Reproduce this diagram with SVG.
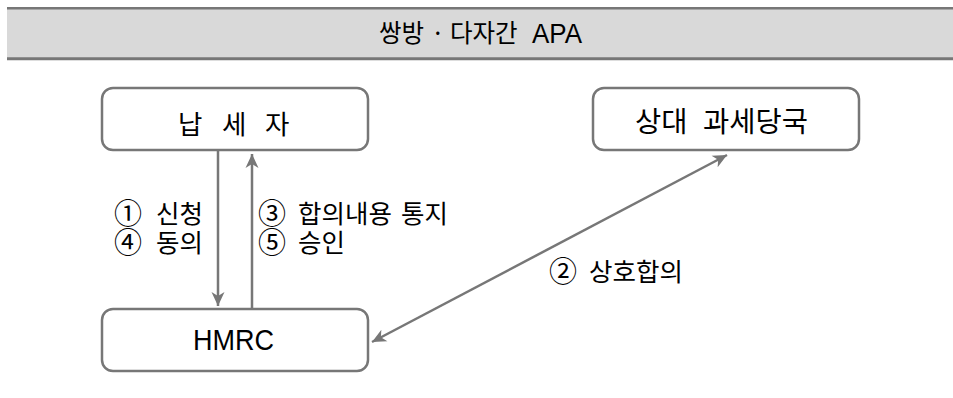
<svg xmlns="http://www.w3.org/2000/svg" width="953" height="398" viewBox="0 0 953 398">
<style>
.box{fill:#fff;stroke:#777;stroke-width:2.5}
.con{fill:none;stroke:#777;stroke-width:2.5}
.kr{font-family:"Noto Sans CJK KR","Noto Sans CJK SC",sans-serif;fill:#000}
.lbl{font-family:"Liberation Sans","Noto Sans CJK KR","Noto Sans CJK SC",sans-serif;fill:#000}
.lat{font-family:"Liberation Sans",Arial,sans-serif;fill:#000}
.num{font-size:28px}
</style>
<defs>
<marker id="ah" viewBox="0 -8 16 16" refX="14" refY="0" markerWidth="16" markerHeight="16" markerUnits="userSpaceOnUse" orient="auto-start-reverse">
<path d="M0,-6.5 L14,0 L0,6.5 L4,0 Z" fill="#777"/>
</marker>
</defs>
<rect width="953" height="398" fill="#fff"/>
<g id="header">
<rect x="7" y="8" width="946" height="50" fill="#d9d9d9"/>
<line x1="7" y1="8.2" x2="953" y2="8.2" stroke="#777" stroke-width="2.5"/>
<line x1="7" y1="58.7" x2="953" y2="58.7" stroke="#777" stroke-width="3"/>
<text class="kr" y="41.5" font-size="24.5"><tspan x="379">쌍방 </tspan><tspan x="431">· </tspan><tspan x="450">다자간 </tspan><tspan x="532" y="42.5" font-size="27" class="lat" textLength="50" lengthAdjust="spacingAndGlyphs">APA</tspan></text>
</g>
<g id="connectors">
<line class="con" x1="218" y1="150" x2="218" y2="306" marker-end="url(#ah)"/>
<line class="con" x1="252" y1="309" x2="252" y2="154" marker-end="url(#ah)"/>
<line class="con" x1="372" y1="342" x2="727" y2="155" marker-start="url(#ah)" marker-end="url(#ah)"/>
<text class="lbl" font-size="25.5"><tspan class="num" x="114" y="223.5">① </tspan><tspan x="156" y="223">신청</tspan><tspan class="num" x="114" y="252.5">④ </tspan><tspan x="156" y="252">동의</tspan></text>
<text class="lbl" font-size="25.5"><tspan class="num" x="258" y="223.5">③ </tspan><tspan x="298" y="223">합의내용 </tspan><tspan x="401" y="223">통지</tspan><tspan class="num" x="258" y="252.5">⑤ </tspan><tspan x="298" y="252">승인</tspan></text>
<text class="lbl" font-size="25.5" y="281"><tspan class="num" x="549" y="281.5">② </tspan><tspan x="589" y="281">상호합의</tspan></text>
</g>
<g id="taxpayer">
<rect class="box" x="102" y="88" width="266" height="62" rx="11"/>
<text class="kr" font-size="26.5" y="134"><tspan x="178">납 </tspan><tspan x="222">세 </tspan><tspan x="265">자</tspan></text>
</g>
<g id="counterpart">
<rect class="box" x="593" y="88" width="266" height="62" rx="11"/>
<text class="kr" font-size="28.5" y="132"><tspan x="635">상대 </tspan><tspan x="703">과세당국</tspan></text>
</g>
<g id="hmrc">
<rect class="box" x="102" y="309" width="266" height="62" rx="11"/>
<text class="lat" font-size="30" x="193" y="350" textLength="81" lengthAdjust="spacingAndGlyphs">HMRC</text>
</g>
</svg>
